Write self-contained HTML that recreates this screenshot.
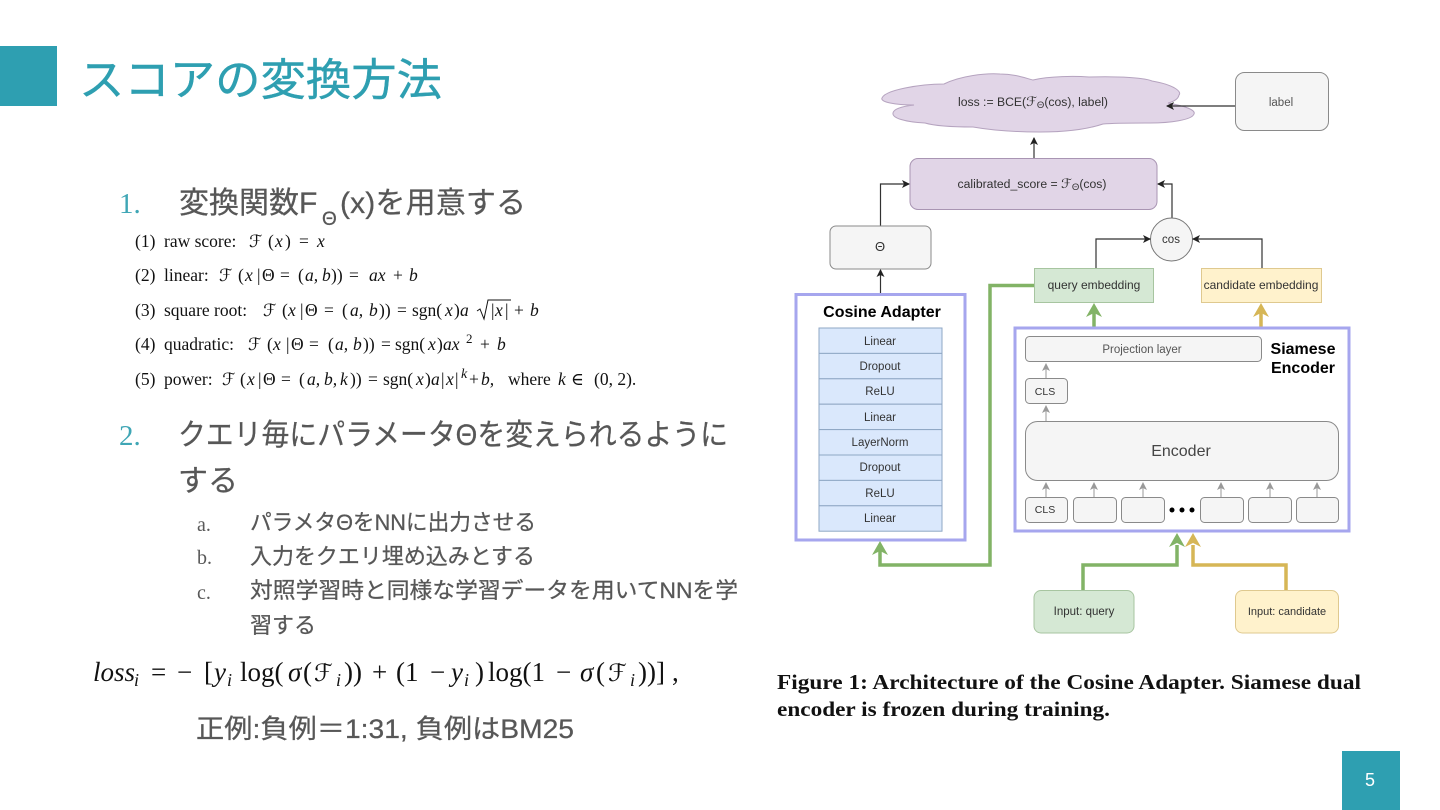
<!DOCTYPE html>
<html lang="ja"><head><meta charset="utf-8"><title>スコアの変換方法</title>
<style>html,body{margin:0;padding:0;background:#fff;width:1440px;height:810px;overflow:hidden}svg{display:block}
.j{font-family:"Liberation Sans","Noto Sans CJK JP",sans-serif;fill:#575757;stroke:#575757;stroke-width:.25}
.s{font-family:"Liberation Serif",serif}
.m{font-family:"Liberation Serif","DejaVu Serif",serif;fill:#111;font-size:17.500px}
.i{font-style:italic}
.f{font-family:"DejaVu Sans",serif;font-size:17px}
.d{font-family:"Liberation Sans",sans-serif;fill:#333;text-anchor:middle;font-size:11.5px}
.g{fill:#f5f5f5;stroke:#8a8a8a;stroke-width:1}
.h{font-family:"Liberation Sans",sans-serif;font-weight:bold;fill:#000;text-anchor:middle;font-size:16px}
.l{font-family:"Liberation Serif",serif;font-size:27px;fill:#111}
.l .f{font-size:24px}
.sb{font-size:18px;font-style:italic}
</style></head><body>
<svg width="1440" height="810" viewBox="0 0 1440 810" xmlns="http://www.w3.org/2000/svg">
<defs>
<marker id="a" markerWidth="9" markerHeight="9" refX="7" refY="4" orient="auto" markerUnits="userSpaceOnUse"><path d="M0 0L8 4L0 8L2 4Z" fill="#222"/></marker>
<marker id="b" markerWidth="9" markerHeight="9" refX="7" refY="4" orient="auto" markerUnits="userSpaceOnUse"><path d="M0 0L8 4L0 8L2 4Z" fill="#999"/></marker>
<filter id="bl" filterUnits="userSpaceOnUse" x="0" y="0" width="1440" height="810"><feGaussianBlur stdDeviation="0.35"/></filter>
</defs>
<rect x="0" y="46" width="57" height="60" fill="#2e9fb1"/>
<rect x="1342" y="751" width="58" height="59" fill="#2e9fb1"/>
<text x="1370" y="786" text-anchor="middle" font-family="Liberation Sans" font-size="18" fill="#fff">5</text>
<text class="j" x="79" y="95" font-size="44" style="fill:#2e9fb1;stroke:#2e9fb1;stroke-width:.4" textLength="363" lengthAdjust="spacingAndGlyphs">スコアの変換方法</text>

<text class="s" x="119" y="213" font-size="29" fill="#3fa6b5">1.</text>
<text class="j" x="179" y="213" font-size="30">変換関数F</text>
<text class="j" x="322" y="225" font-size="19">Θ</text>
<text class="j" x="340" y="213" font-size="30" textLength="186">(x)を用意する</text>

<g class="m">
<text y="247"><tspan x="135">(1)</tspan><tspan x="164">raw score:</tspan><tspan x="249" class="f">ℱ</tspan><tspan x="268">(</tspan><tspan x="275" class="i">x</tspan><tspan x="285">)</tspan><tspan x="299">=</tspan><tspan x="317" class="i">x</tspan></text>
<text y="281"><tspan x="135">(2)</tspan><tspan x="164">linear:</tspan><tspan x="219" class="f">ℱ</tspan><tspan x="238">(</tspan><tspan x="245" class="i">x</tspan><tspan x="257">|</tspan><tspan x="262">Θ</tspan><tspan x="280">=</tspan><tspan x="298">(</tspan><tspan x="305" class="i">a,</tspan><tspan x="322" class="i">b</tspan><tspan x="331">))</tspan><tspan x="349">=</tspan><tspan x="369" class="i">ax</tspan><tspan x="393">+</tspan><tspan x="409" class="i">b</tspan></text>
<text y="316"><tspan x="135">(3)</tspan><tspan x="164">square root:</tspan><tspan x="263" class="f">ℱ</tspan><tspan x="282">(</tspan><tspan x="288" class="i">x</tspan><tspan x="300">|</tspan><tspan x="305">Θ</tspan><tspan x="324">=</tspan><tspan x="342">(</tspan><tspan x="350" class="i">a,</tspan><tspan x="369" class="i">b</tspan><tspan x="379">))</tspan><tspan x="397">=</tspan><tspan x="412">sgn(</tspan><tspan x="445" class="i">x</tspan><tspan x="454">)</tspan><tspan x="460" class="i">a</tspan><tspan x="491">|</tspan><tspan x="495" class="i">x</tspan><tspan x="505">|</tspan><tspan x="514">+</tspan><tspan x="530" class="i">b</tspan></text>
<text y="350"><tspan x="135">(4)</tspan><tspan x="164">quadratic:</tspan><tspan x="248" class="f">ℱ</tspan><tspan x="267">(</tspan><tspan x="273" class="i">x</tspan><tspan x="286">|</tspan><tspan x="291">Θ</tspan><tspan x="309">=</tspan><tspan x="328">(</tspan><tspan x="335" class="i">a,</tspan><tspan x="353" class="i">b</tspan><tspan x="363">))</tspan><tspan x="381">=</tspan><tspan x="395">sgn(</tspan><tspan x="428" class="i">x</tspan><tspan x="437">)</tspan><tspan x="443" class="i">ax</tspan><tspan x="466" dy="-7" font-size="13">2</tspan><tspan x="480" dy="7">+</tspan><tspan x="497" class="i">b</tspan></text>
<text y="385"><tspan x="135">(5)</tspan><tspan x="164">power:</tspan><tspan x="222" class="f">ℱ</tspan><tspan x="240">(</tspan><tspan x="247" class="i">x</tspan><tspan x="258">|</tspan><tspan x="263">Θ</tspan><tspan x="281">=</tspan><tspan x="299">(</tspan><tspan x="307" class="i">a,</tspan><tspan x="324" class="i">b,</tspan><tspan x="340" class="i">k</tspan><tspan x="350">))</tspan><tspan x="368">=</tspan><tspan x="383">sgn(</tspan><tspan x="416" class="i">x</tspan><tspan x="425">)</tspan><tspan x="431" class="i">a</tspan><tspan x="441">|</tspan><tspan x="446" class="i">x</tspan><tspan x="455">|</tspan><tspan x="461" dy="-7" font-size="14" class="i">k</tspan><tspan x="469" dy="7">+</tspan><tspan x="481" class="i">b,</tspan><tspan x="508">where</tspan><tspan x="558" class="i">k</tspan><tspan x="571">∈</tspan><tspan x="594">(0, 2).</tspan></text>
</g>
<path d="M477 311L480 309L484 319L488 300H511" fill="none" stroke="#111" stroke-width="1"/>

<text class="s" x="119" y="445" font-size="29" fill="#3fa6b5">2.</text>
<text class="j" x="178" y="445" font-size="30" textLength="550" lengthAdjust="spacingAndGlyphs">クエリ毎にパラメータΘを変えられるように</text>
<text class="j" x="178" y="491" font-size="30">する</text>

<g font-size="22">
<text class="s" x="197" y="531" font-size="20" fill="#595959">a.</text>
<text class="j" x="250" y="530" textLength="286" lengthAdjust="spacingAndGlyphs">パラメタΘをNNに出力させる</text>
<text class="s" x="197" y="564" font-size="20" fill="#595959">b.</text>
<text class="j" x="250" y="564" textLength="285" lengthAdjust="spacingAndGlyphs">入力をクエリ埋め込みとする</text>
<text class="s" x="197" y="599" font-size="20" fill="#595959">c.</text>
<text class="j" x="250" y="598" textLength="488" lengthAdjust="spacingAndGlyphs">対照学習時と同様な学習データを用いてNNを学</text>
<text class="j" x="250" y="633">習する</text>
</g>

<text class="l" y="681"><tspan x="93" class="i">loss</tspan><tspan x="134" dy="5" class="sb">i</tspan><tspan x="151" dy="-5">=</tspan><tspan x="177">−</tspan><tspan x="204">[</tspan><tspan x="214" class="i">y</tspan><tspan x="227" dy="5" class="sb">i</tspan><tspan x="240" dy="-5">log(</tspan><tspan x="288" class="i">σ</tspan><tspan x="303">(</tspan><tspan x="314" class="f">ℱ</tspan><tspan x="336" dy="5" class="sb">i</tspan><tspan x="344" dy="-5">))</tspan><tspan x="372">+</tspan><tspan x="396">(1</tspan><tspan x="430">−</tspan><tspan x="451" class="i">y</tspan><tspan x="464" dy="5" class="sb">i</tspan><tspan x="475" dy="-5">)</tspan><tspan x="488">log(1</tspan><tspan x="556">−</tspan><tspan x="580" class="i">σ</tspan><tspan x="596">(</tspan><tspan x="608" class="f">ℱ</tspan><tspan x="630" dy="5" class="sb">i</tspan><tspan x="638" dy="-5">))]</tspan><tspan x="672">,</tspan></text>
<text class="j" x="196" y="738" font-size="26.500" textLength="378" lengthAdjust="spacingAndGlyphs">正例:負例＝1:31, 負例はBM25</text>

<g filter="url(#bl)">
<!-- cloud -->
<path d="M882 98C885 90 920 84 944 84C960 76 985 73 1000 74C1015 74 1025 78 1033 80C1050 76 1075 76 1089 77C1120 76 1145 78 1152 81C1175 85 1182 92 1179 95C1178 100 1172 102 1168 103C1185 106 1196 110 1194 114C1192 120 1170 123 1150 123C1130 123 1115 123 1103 124C1085 130 1060 132 1040 132C1015 132 990 130 973 127C955 127 935 126 925 123C905 122 892 118 893 113C894 108 905 106 914 105C895 105 880 102 882 98Z" fill="#e1d5e7" stroke="#b5a3bf" stroke-width="1"/>
<text class="d" x="1033" y="106" textLength="150" lengthAdjust="spacingAndGlyphs">loss := BCE(<tspan font-family="DejaVu Sans" font-size="13">ℱ</tspan><tspan font-size="9" dy="2">Θ</tspan><tspan dy="-2">(cos), label)</tspan></text>

<rect x="1235.500" y="72.500" width="93" height="58" rx="9" class="g"/>
<text class="d" x="1281" y="106" style="fill:#555">label</text>
<path d="M1235 106H1167" stroke="#333" stroke-width="1.200" fill="none" marker-end="url(#a)"/>

<rect x="910" y="158.500" width="247" height="51" rx="8" fill="#e1d5e7" stroke="#a995b3"/>
<text class="d" x="1032" y="188" textLength="149" lengthAdjust="spacingAndGlyphs">calibrated_score = <tspan font-family="DejaVu Sans" font-size="13">ℱ</tspan><tspan font-size="9" dy="2">Θ</tspan><tspan dy="-2">(cos)</tspan></text>
<path d="M1034 158V138" stroke="#333" stroke-width="1.200" fill="none" marker-end="url(#a)"/>
<path d="M880.500 226V184H909" stroke="#333" stroke-width="1.200" fill="none" marker-end="url(#a)"/>
<path d="M1172 218V184H1158" stroke="#333" stroke-width="1.200" fill="none" marker-end="url(#a)"/>

<rect x="830" y="226" width="101" height="43" rx="6" class="g"/>
<text class="d" x="880" y="251" style="font-size:13px">Θ</text>
<path d="M880.500 294V270" stroke="#333" stroke-width="1.200" fill="none" marker-end="url(#a)"/>

<ellipse cx="1171.500" cy="239.500" rx="21" ry="21.500" fill="#f5f5f5" stroke="#777"/>
<text class="d" x="1171" y="243">cos</text>
<path d="M1096 268V239H1150" stroke="#333" stroke-width="1.200" fill="none" marker-end="url(#a)"/>
<path d="M1262 268V239H1193" stroke="#333" stroke-width="1.200" fill="none" marker-end="url(#a)"/>

<rect x="1034.500" y="268.500" width="119" height="34" fill="#d5e8d4" stroke="#a7c5a0"/>
<text class="d" x="1094" y="289" style="font-size:12px">query embedding</text>
<rect x="1201.500" y="268.500" width="120" height="34" fill="#fff2cc" stroke="#dfc98f"/>
<text class="d" x="1261" y="289" style="font-size:12px">candidate embedding</text>

<!-- thick arrows -->
<g fill="none" stroke-width="3.500">
<path d="M1034 285.500H990V565H880V550" stroke="#82b366"/>
<path d="M1094 327V312" stroke="#82b366"/>
<path d="M1261 327V312" stroke="#d6b656"/>
<path d="M1083 590V565H1177V545" stroke="#82b366"/>
<path d="M1286 590V565H1193V545" stroke="#d6b656"/>
</g>
<g><path d="M880 541L888 555L880 551L872 555Z" fill="#82b366"/><path d="M1094 303L1102 317L1094 313L1086 317Z" fill="#82b366"/><path d="M1261 303L1269 317L1261 313L1253 317Z" fill="#d6b656"/><path d="M1177 533L1185 547L1177 543L1169 547Z" fill="#82b366"/><path d="M1193 533L1201 547L1193 543L1185 547Z" fill="#d6b656"/></g>

<!-- cosine adapter -->
<rect x="796" y="294.500" width="169" height="245.500" fill="#fff" stroke="#a6a6ee" stroke-width="3"/>
<text class="h" x="882" y="317">Cosine Adapter</text>
<g fill="#dae8fc" stroke="#8fa7c4">
<rect x="819" y="328" width="123" height="25.400"/><rect x="819" y="353.400" width="123" height="25.400"/><rect x="819" y="378.800" width="123" height="25.400"/><rect x="819" y="404.200" width="123" height="25.400"/><rect x="819" y="429.600" width="123" height="25.400"/><rect x="819" y="455" width="123" height="25.400"/><rect x="819" y="480.400" width="123" height="25.400"/><rect x="819" y="505.800" width="123" height="25.400"/>
</g>
<g class="d">
<text x="880" y="345">Linear</text><text x="880" y="370">Dropout</text><text x="880" y="395">ReLU</text><text x="880" y="421">Linear</text><text x="880" y="446">LayerNorm</text><text x="880" y="471">Dropout</text><text x="880" y="497">ReLU</text><text x="880" y="522">Linear</text>
</g>

<!-- siamese -->
<rect x="1015" y="328" width="334" height="203" fill="#fff" stroke="#a6a6ee" stroke-width="3"/>
<rect x="1025.500" y="336.500" width="236" height="25" rx="4" class="g"/>
<text class="d" x="1142" y="353" style="fill:#555">Projection layer</text>
<text class="h" x="1303" y="354">Siamese</text>
<text class="h" x="1303" y="373">Encoder</text>
<rect x="1025.500" y="378.500" width="42" height="25" rx="4" class="g"/>
<text class="d" x="1045" y="395" style="font-size:10.500px">CLS</text>
<rect x="1025.500" y="421.500" width="313" height="59" rx="12" class="g"/>
<text x="1181" y="456" text-anchor="middle" font-family="Liberation Sans" font-size="16" fill="#444">Encoder</text>
<g class="g">
<rect x="1025.500" y="497.500" width="42" height="25" rx="4"/><rect x="1073.500" y="497.500" width="43" height="25" rx="4"/><rect x="1121.500" y="497.500" width="43" height="25" rx="4"/><rect x="1200.500" y="497.500" width="43" height="25" rx="4"/><rect x="1248.500" y="497.500" width="43" height="25" rx="4"/><rect x="1296.500" y="497.500" width="42" height="25" rx="4"/>
</g>
<text class="d" x="1045" y="513" style="font-size:10.500px">CLS</text>
<circle cx="1172" cy="510" r="2.500" fill="#000"/><circle cx="1182" cy="510" r="2.500" fill="#000"/><circle cx="1192" cy="510" r="2.500" fill="#000"/>
<g stroke="#999" fill="none">
<path d="M1046 378V364" marker-end="url(#b)"/><path d="M1046 421V406" marker-end="url(#b)"/><path d="M1046 497V483" marker-end="url(#b)"/><path d="M1094 497V483" marker-end="url(#b)"/><path d="M1143 497V483" marker-end="url(#b)"/><path d="M1221 497V483" marker-end="url(#b)"/><path d="M1270 497V483" marker-end="url(#b)"/><path d="M1317 497V483" marker-end="url(#b)"/>
</g>

<rect x="1034" y="590.500" width="100" height="42.500" rx="7" fill="#d5e8d4" stroke="#a7c5a0"/>
<text class="d" x="1084" y="615">Input: query</text>
<rect x="1235.500" y="590.500" width="103" height="42.500" rx="7" fill="#fff2cc" stroke="#dfc98f"/>
<text class="d" x="1287" y="615" style="font-size:11px">Input: candidate</text>
</g>

<g font-family="Liberation Serif" font-weight="bold" font-size="21" fill="#111">
<text x="777" y="689" textLength="584" lengthAdjust="spacingAndGlyphs">Figure 1: Architecture of the Cosine Adapter. Siamese dual</text>
<text x="777" y="716" textLength="333" lengthAdjust="spacingAndGlyphs">encoder is frozen during training.</text>
</g>
</svg>
</body></html>
